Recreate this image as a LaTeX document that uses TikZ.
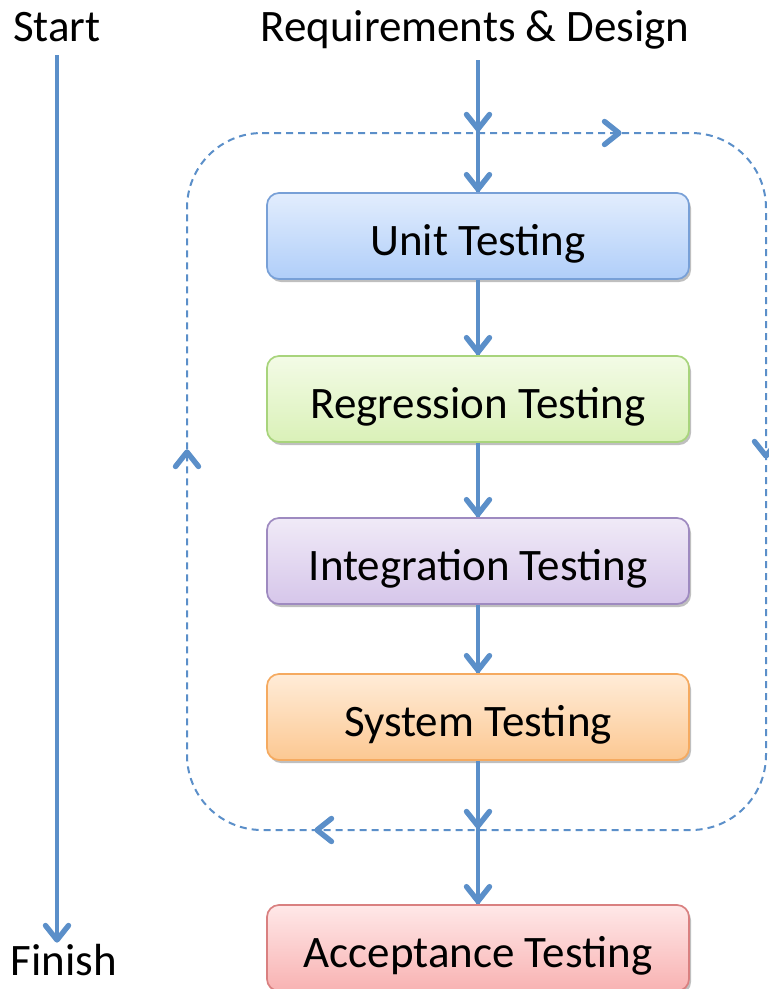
\documentclass[tikz,border=0pt]{standalone}
\usepackage{fontspec}
\setmainfont{Carlito}
\usetikzlibrary{calc,shadows}
\definecolor{lineblue}{HTML}{5B8FC9}
\tikzset{
  flow/.style={draw=lineblue, line width=4.8pt},
  chevline/.style={draw=lineblue, line width=5.4pt, line cap=round, line join=round},
  chevpic/.pic={\draw[chevline] (-11.5,-14.5) -- (0,0) -- (11.5,-14.5);},
  loopline/.style={draw=lineblue, line width=2pt, dash pattern=on 7pt off 5pt},
  txt/.style={font=\fontsize{45}{54}\selectfont, inner sep=0pt, anchor=base},
  stage/.style={rounded corners=12pt, minimum width=422pt, minimum height=86pt, line width=1.7pt,
    font=\fontsize{45}{54}\selectfont, inner sep=0pt, text height=38pt, text depth=0pt,
    drop shadow={shadow xshift=2pt, shadow yshift=-3pt, opacity=0.25, fill=black}},
}
\begin{document}
\begin{tikzpicture}[x=1pt,y=-1pt]
\useasboundingbox (0,0) rectangle (769,989);
% labels
\node[txt] (start) at (57,41) {Start};
\node[txt] (req) at (475,41) {Requirements \& Design};
\node[txt] (finish) at (64,975) {Finish};
% stages
\node[stage, draw={rgb,255:red,120;green,160;blue,215}, top color={rgb,255:red,226;green,237;blue,253}, bottom color={rgb,255:red,176;green,206;blue,249}] (unit) at (478,236) {Unit Testing};
\node[stage, draw={rgb,255:red,168;green,212;blue,124}, top color={rgb,255:red,243;green,251;blue,230}, bottom color={rgb,255:red,218;green,241;blue,184}] (reg) at (478,399) {Regression Testing};
\node[stage, draw={rgb,255:red,158;green,138;blue,192}, top color={rgb,255:red,240;green,234;blue,247}, bottom color={rgb,255:red,214;green,198;blue,234}] (int) at (478,561) {Integration Testing};
\node[stage, draw={rgb,255:red,245;green,170;blue,96}, top color={rgb,255:red,255;green,236;blue,216}, bottom color={rgb,255:red,252;green,200;blue,146}] (sys) at (478,717) {System Testing};
\node[stage, draw={rgb,255:red,217;green,128;blue,128}, top color={rgb,255:red,255;green,232;blue,232}, bottom color={rgb,255:red,248;green,178;blue,178}] (acc) at (478,948) {Acceptance Testing};
% dashed loop
\draw[loopline, rounded corners=75pt] (187,133) -- (766,133) -- (766,830) -- (187,830) -- cycle;
\pic[rotate=90] at (619,133) {chevpic};
\pic[rotate=0] at (766,456) {chevpic};
\pic[rotate=270] at (317,830) {chevpic};
\pic[rotate=180] at (187,452) {chevpic};
% main flow
\coordinate (reqend) at (478,60);
\coordinate (c1) at (478,133);
\coordinate (c2) at (478,830);
\draw[flow] (reqend) -- (c1) -- (unit.north);
\draw[flow] (unit) -- (reg);
\draw[flow] (reg) -- (int);
\draw[flow] (int) -- (sys);
\draw[flow] (sys) -- (c2) -- (acc.north);
\pic at ($(c1)+(0,-4)$) {chevpic};
\pic at ($(unit.north)+(0,-3)$) {chevpic};
\pic at ($(reg.north)+(0,-3)$) {chevpic};
\pic at ($(int.north)+(0,-3)$) {chevpic};
\pic at ($(sys.north)+(0,-3)$) {chevpic};
\pic at ($(c2)+(0,-4)$) {chevpic};
\pic at ($(acc.north)+(0,-3)$) {chevpic};
% start-finish
\coordinate (s0) at (57,55);
\coordinate (f0) at (57,940);
\draw[flow] (s0) -- (f0);
\pic at (f0) {chevpic};
\end{tikzpicture}
\end{document}
